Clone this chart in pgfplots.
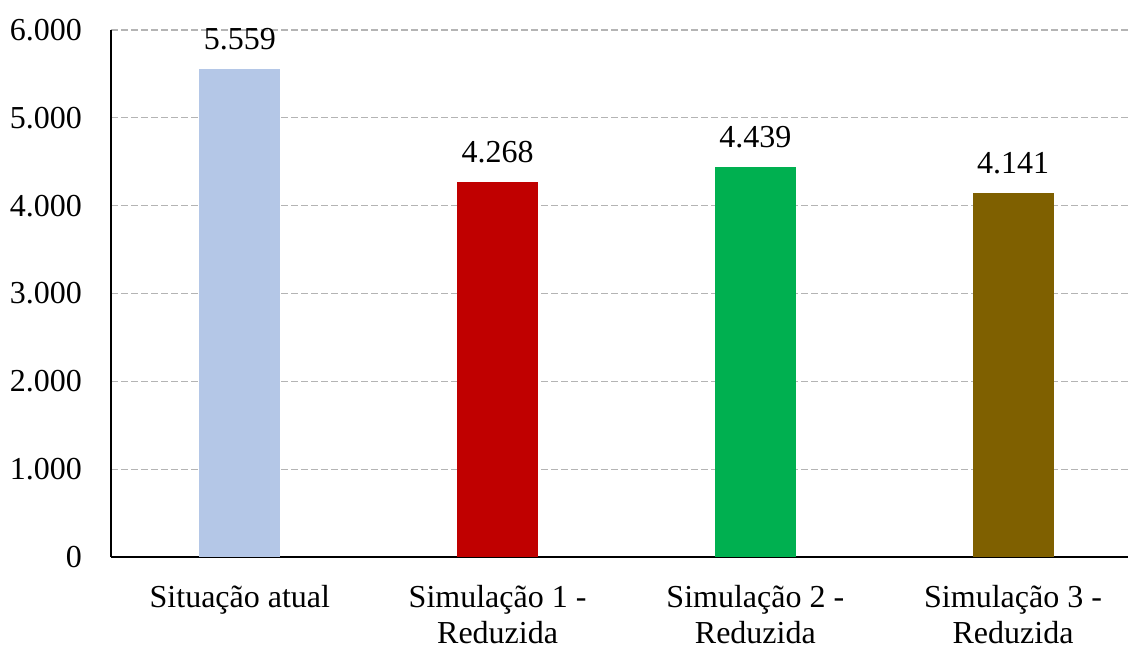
\documentclass[border=0pt]{standalone}
\usepackage{pgfplots}
\pgfplotsset{compat=1.18}
\usepackage{fontspec}
\setmainfont{Liberation Serif}
\definecolor{cAtual}{HTML}{B4C7E7}
\definecolor{cSim1}{HTML}{C00000}
\definecolor{cSim2}{HTML}{00B050}
\definecolor{cSim3}{HTML}{7F6000}
\definecolor{gridc}{HTML}{B4B4B4}
\begin{document}
\begin{tikzpicture}
\useasboundingbox (-55.5pt,-43.5pt) rectangle (508.5pt,278.5pt);
\begin{axis}[
  at={(0,0)}, anchor=south west,
  scale only axis, width=508.5pt, height=263.5pt,
  font=\fontsize{16}{18}\selectfont,
  ybar, bar width=40.5pt, bar shift=0pt,
  xmin=-0.5, xmax=3.446,
  ymin=0, ymax=6000,
  ytick={0,1000,...,6000},
  xtick={0,1,2,3},
  xticklabels={Situação atual, Simulação 1 -\\Reduzida, Simulação 2 -\\Reduzida, Simulação 3 -\\Reduzida},
  xticklabel style={align=center, yshift=-10.5pt},
  yticklabel style={xshift=-11pt},
  major tick length=0pt,
  axis x line*=bottom, axis y line*=left,
  axis line style={black, line width=1pt, -},
  ymajorgrids,
  grid style={gridc, dash pattern=on 3.5pt off 1.5pt, line width=0.6pt},
  /pgf/number format/.cd, 1000 sep={.}, assume math mode=true,
  /pgfplots/.cd,
  nodes near coords,
  every node near coord/.append style={yshift=6pt, font=\fontsize{16}{18}\selectfont,
    /pgf/number format/1000 sep={.}, /pgf/number format/assume math mode=true},
]
\addplot[fill=cAtual, draw=none] coordinates {(0,5559)};
\addplot[fill=cSim1, draw=none] coordinates {(1,4268)};
\addplot[fill=cSim2, draw=none] coordinates {(2,4439)};
\addplot[fill=cSim3, draw=none] coordinates {(3,4141)};
\end{axis}
\end{tikzpicture}
\end{document}
